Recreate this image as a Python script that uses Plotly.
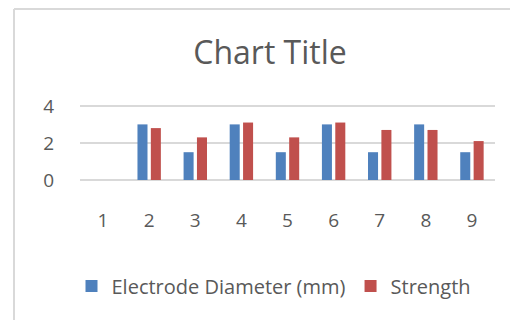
import plotly.graph_objects as go

categories = ["1", "2", "3", "4", "5", "6", "7", "8", "9"]
electrode_diameter = [0, 3, 1.5, 3, 1.5, 3, 1.5, 3, 1.5]
strength = [0, 2.8, 2.3, 3.1, 2.3, 3.1, 2.7, 2.7, 2.1]
y_ticks = [0, 2, 4]

FONT = "Open Sans"
TXT = "#595959"

fig = go.Figure()
fig.add_trace(go.Bar(x=categories, y=electrode_diameter, name="Electrode Diameter (mm)",
                     marker=dict(color="#4F81BD", line=dict(width=0))))
fig.add_trace(go.Bar(x=categories, y=strength, name="Strength",
                     marker=dict(color="#C0504D", line=dict(width=0))))

# page body has an 8px margin, so the figure is 8px smaller and offset
W, H = 510, 312
L, R, T, B = 72, 23, 96, 140
pw, ph = W - L - R, H - T - B

def px_x(x):
    return (x - L) / pw

def px_y(y):
    return (H - B - y) / ph

fig.update_layout(
    width=W, height=H,
    margin=dict(l=L, r=R, t=T, b=B),
    paper_bgcolor="white", plot_bgcolor="white",
    barmode="group", bargap=0.42, bargroupgap=0.25,
    font=dict(family=FONT, color=TXT, size=19),
    title=dict(text="Chart Title", x=262 / W, xref="container", xanchor="center",
               y=1 - 45 / H, yref="container", yanchor="middle",
               font=dict(family=FONT, size=32, color=TXT)),
    xaxis=dict(type="category", showgrid=False, showline=False, zeroline=False,
               ticks="outside", ticklen=23, tickcolor="rgba(0,0,0,0)",
               tickfont=dict(size=19, color=TXT)),
    yaxis=dict(range=[0, 4.1], tickvals=y_ticks, showgrid=True, gridcolor="#D9D9D9",
               gridwidth=1.5, zeroline=True, zerolinecolor="#D9D9D9", zerolinewidth=1.5,
               showline=False, ticks="outside", ticklen=21, tickcolor="rgba(0,0,0,0)",
               tickfont=dict(size=19, color=TXT)),
    legend=dict(orientation="h", x=266 / W, xref="container", xanchor="center",
                y=1 - 278 / H, yref="container", yanchor="middle",
                font=dict(size=20, color=TXT), traceorder="normal"),
    showlegend=True,
)

fig.add_shape(type="line", xref="paper", yref="paper",
              x0=px_x(6), x1=px_x(6), y0=px_y(1), y1=px_y(330),
              line=dict(color="#D9D9D9", width=2))
fig.add_shape(type="line", xref="paper", yref="paper",
              x0=px_x(6), x1=px_x(530), y0=px_y(1), y1=px_y(1),
              line=dict(color="#D9D9D9", width=2))

fig.write_html("out.html")
